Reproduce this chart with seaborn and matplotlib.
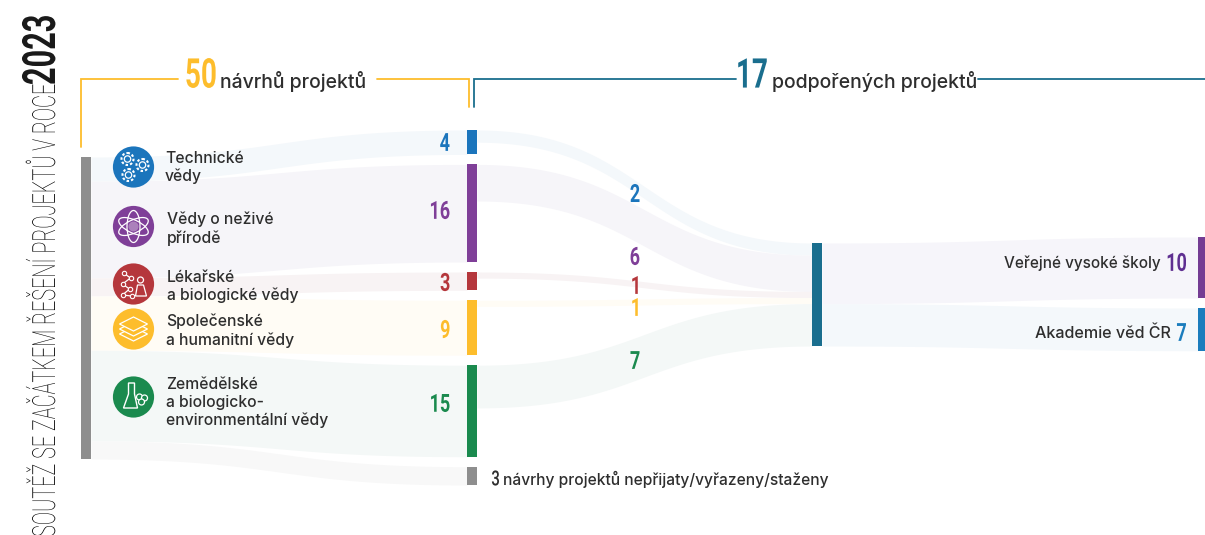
import matplotlib
matplotlib.use('Agg')
import matplotlib.pyplot as plt
from matplotlib.patches import Circle, Ellipse, PathPatch, Polygon
from matplotlib.text import Text
from matplotlib.textpath import TextPath
from matplotlib.transforms import Affine2D
import numpy as np
import pandas as pd
import seaborn as sns

# data
fields = ['Technické\nvědy', 'Vědy o neživé\npřírodě', 'Lékařské\na biologické vědy',
          'Společenské\na humanitní vědy', 'Zemědělské\na biologicko-\nenvironmentální vědy']
proposals = [4, 16, 3, 9, 15]
rejected = 3
supported = [2, 6, 1, 1, 7]
providers = ['Veřejné vysoké školy', 'Akademie věd ČR']
provider_counts = [10, 7]
total_proposals = 50
total_supported = 17

# colours
field_colors = ['#1b75bc', '#7f3f98', '#b5373c', '#fdbd2c', '#1a8a4e']
flow_colors = ['#f4f8fb', '#f6f5f9', '#f8f3f4', '#fffcf5', '#f4f8f7']
provider_colors = ['#743c93', '#1b7dbd']
provider_flows = ['#f6f5fa', '#f4f8fb']
grey = '#8e8e8e'
teal = '#1a6e8e'
yellow = '#fdbd2c'
dark = '#2e2e2e'

sns.set_theme(style='white')
plt.rcParams['font.family'] = ['Inter', 'DejaVu Sans']

fig = plt.figure(figsize=(12.05, 5.35), dpi=100)
ax = fig.add_axes([0, 0, 1, 1])
ax.set_xlim(0, 1205)
ax.set_ylim(535, 0)
ax.axis('off')

unit_left = 6.04
unit_mid = 6.1
unit_c = 6.06
gap = 10


class NarrowText(Text):
    # no condensed font is installed, so squeeze the glyphs sideways
    squeeze = 0.72

    def _glyphs(self):
        path = TextPath((0, 0), self.get_text(), size=self.get_fontsize(),
                        prop=self.get_fontproperties())
        box = path.get_extents()
        x_off = {'left': box.x0, 'center': (box.x0 + box.x1) / 2, 'right': box.x1}[self.get_ha()]
        y_off = (box.y0 + box.y1) / 2 if self.get_va() == 'center' else 0
        px = self.get_figure().dpi / 72
        tr = (Affine2D().translate(-x_off, -y_off).scale(self.squeeze * px, px)
              .rotate_deg(self.get_rotation())
              .translate(*self.get_transform().transform(self.get_position())))
        return path, tr

    def draw(self, renderer):
        path, tr = self._glyphs()
        patch = PathPatch(path, fc=self.get_color(), lw=0, transform=tr)
        patch.set_figure(self.get_figure())
        patch.draw(renderer)

    def get_window_extent(self, renderer=None, dpi=None):
        path, tr = self._glyphs()
        return path.get_extents(tr)


def narrow(x, y, s, color, size, squeeze=0.72, ha='center', va='center', rotation=0,
           family='Roboto', weight='bold'):
    t = NarrowText(x, y, s, color=color, fontsize=size, ha=ha, va=va, rotation=rotation,
                   family=family, fontweight=weight, zorder=5)
    t.squeeze = squeeze
    ax.add_artist(t)
    return t


def flow(x0, x1, y0, y1, h0, h1, color):
    t = np.linspace(0, 1, 200)
    # cubic curve with control points halfway across
    xs = x0 + (x1 - x0) * (1.5 * t * (1 - t) ** 2 + 1.5 * (1 - t) * t ** 2 + t ** 3)
    s = 3 * (1 - t) * t ** 2 + t ** 3
    top = y0 + (y1 - y0) * s
    bottom = y0 + h0 + (y1 + h1 - y0 - h0) * s
    ax.fill_between(xs, top, bottom, color=color, lw=0, zorder=1)


def node(x, y, h, color, w=10):
    ax.bar(x, h, width=w, bottom=y, align='edge', color=color, lw=0, zorder=3)


# left column -> middle column
x_a, x_b, x_c, x_d = 81, 467, 812, 1198
y_left = 157
y_mid = 130
mid_tops = []
all_values = proposals + [rejected]
all_flows = flow_colors + ['#f8f8f8']
for v, c in zip(all_values, all_flows):
    flow(x_a + 10, x_b, y_left, y_mid, v * unit_left, v * unit_mid, c)
    mid_tops.append(y_mid)
    y_left += v * unit_left
    y_mid += v * unit_mid + gap

node(x_a, 157, total_proposals * unit_left, grey)
for v, top, c in zip(all_values, mid_tops, field_colors + [grey]):
    node(x_b, top, v * unit_mid, c)

# middle column -> supported
y_c = 243
for v, top, c in zip(supported, mid_tops, flow_colors):
    flow(x_b + 10, x_c, top, y_c, v * unit_mid, v * unit_c, c)
    y_c += v * unit_c
node(x_c, 243, total_supported * unit_c, teal)

# supported -> providers
y_c = 243
y_d = 237
for v, c, fc in zip(provider_counts, provider_colors, provider_flows):
    flow(x_c + 10, x_d, y_c, y_d, v * unit_c, v * unit_mid, fc)
    node(x_d, y_d, v * unit_mid, c, w=7)
    y_c += v * unit_c
    y_d += v * unit_mid + gap

# headers
ax.plot([81, 81, 178], [147, 79, 79], color=yellow, lw=1.3, solid_joinstyle='miter')
ax.plot([377, 469, 469], [79, 79, 107], color=yellow, lw=1.3, solid_joinstyle='miter')
ax.plot([473.5, 473.5, 736], [107, 79, 79], color=teal, lw=1.3, solid_joinstyle='miter')
ax.plot([978, 1205], [79, 79], color=teal, lw=1.3)
narrow(201, 73, str(total_proposals), yellow, 29.5, squeeze=0.68)
ax.text(220, 81.5, 'návrhů projektů', fontsize=14, color=dark, va='center', fontweight='medium')
narrow(752.5, 73, str(total_supported), teal, 29.5, squeeze=0.68)
ax.text(772, 81.5, 'podpořených projektů', fontsize=14, color=dark, va='center', fontweight='medium')

# vertical title
narrow(55, 536, 'SOUTĚŽ SE ZAČÁTKEM ŘEŠENÍ PROJEKTŮ V ROCE', '#000000', 23, squeeze=0.622,
       ha='left', va='baseline', rotation=90, weight='light')
narrow(55, 84, str(2023), '#1a1a1a', 33, squeeze=0.67, ha='left', va='baseline', rotation=90)

# icon discs
icon_x = [133.5] * 5
icon_y = [167, 226.5, 284, 329, 397]
icons = pd.DataFrame({'x': icon_x, 'y': icon_y, 'field': fields})
sns.scatterplot(data=icons, x='x', y='y', hue='field', palette=field_colors, s=880,
                linewidth=0, legend=False, ax=ax, zorder=4)
ax.set_xlim(0, 1205)
ax.set_ylim(535, 0)
ax.axis('off')

w = dict(fill=False, ec='white', lw=0.9, zorder=6)
# gears
for dx, dy in [(-6, -8), (9, -2), (-5, 8)]:
    ax.add_patch(Circle((icon_x[0] + dx, icon_y[0] + dy), 3.2, **w))
    ax.add_patch(Circle((icon_x[0] + dx, icon_y[0] + dy), 6, fill=False, ec='white', lw=1.5,
                        ls=(0, (1.2, 1.0)), zorder=6))
# atom
for angle in (25, 90, 155):
    ax.add_patch(Ellipse((icon_x[1], icon_y[1]), 32, 13, angle=angle, **w))
ax.add_patch(Circle((icon_x[1], icon_y[1]), 5, fc='white', ec='none', alpha=0.35, zorder=6))
# molecule and figure
mol = np.array([(-10, -11), (-3, -6), (-11, 0), (-4, 5), (-11, 11), (-2, 12)])
ax.plot(icon_x[2] + mol[:, 0], icon_y[2] + mol[:, 1], color='white', lw=0.9, zorder=6)
ax.scatter(icon_x[2] + mol[:, 0], icon_y[2] + mol[:, 1], s=10, fc=field_colors[2], ec='white', lw=0.8, zorder=7)
ax.add_patch(Circle((icon_x[2] + 7, icon_y[2] - 4), 3, **w))
ax.add_patch(Polygon([(icon_x[2] + 2, icon_y[2] + 12), (icon_x[2] + 4, icon_y[2] + 1),
                      (icon_x[2] + 10, icon_y[2] + 1), (icon_x[2] + 13, icon_y[2] + 12)], **w))
# books
for dy in (5, 0, -5):
    ax.add_patch(Polygon([(icon_x[3] - 14, icon_y[3] + dy), (icon_x[3], icon_y[3] + dy - 7),
                          (icon_x[3] + 14, icon_y[3] + dy), (icon_x[3], icon_y[3] + dy + 7)],
                         fc=field_colors[3], ec='white', lw=0.9, zorder=6))
# flask with leaves
ax.add_patch(Polygon([(icon_x[4] - 5, icon_y[4] - 14), (icon_x[4] - 5, icon_y[4] - 3), (icon_x[4] - 10, icon_y[4] + 11),
                      (icon_x[4] + 4, icon_y[4] + 11), (icon_x[4] + 1, icon_y[4] - 3), (icon_x[4] + 1, icon_y[4] - 14)],
                     fill=False, ec='white', lw=1, zorder=6))
for dx, dy in [(6, 0), (11, 1), (8, 5)]:
    ax.add_patch(Circle((icon_x[4] + dx, icon_y[4] + dy), 3, fc=field_colors[4], ec='white', lw=0.9, zorder=7))

# field labels
label_x = [165, 167, 167, 166, 166]
label_y = [167.5, 228.5, 286.5, 331, 402.5]
for x, y, s in zip(label_x, label_y, fields):
    ax.text(x, y, s, fontsize=11.3, color=dark, va='center', ha='left', linespacing=1.25,
            fontweight='medium', zorder=5)

# counts
count_y = [142, 210, 282, 329, 403]
for y, v, c in zip(count_y, proposals, field_colors):
    narrow(449.5, y, str(v), c, 18, ha='right')
flow_label_y = [193, 256, 285, 307, 360]
for y, v, c in zip(flow_label_y, supported, field_colors):
    narrow(635, y, str(v), c, 18)

narrow(499, 478, str(rejected), dark, 15, ha='right', weight='medium')
ax.text(503, 479.5, 'návrhy projektů nepřijaty/vyřazeny/staženy', fontsize=11.2, color=dark,
        va='center', fontweight='medium')

ax.text(1161, 263.5, providers[0], fontsize=11, color=dark, va='center', ha='right', fontweight='medium')
narrow(1186, 262, str(provider_counts[0]), '#5f2f91', 18, ha='right')
ax.text(1171, 333, providers[1], fontsize=11.6, color=dark, va='center', ha='right', fontweight='medium')
narrow(1186, 332, str(provider_counts[1]), provider_colors[1], 18, ha='right')

fig.savefig('out.png', dpi=100, facecolor='white')
